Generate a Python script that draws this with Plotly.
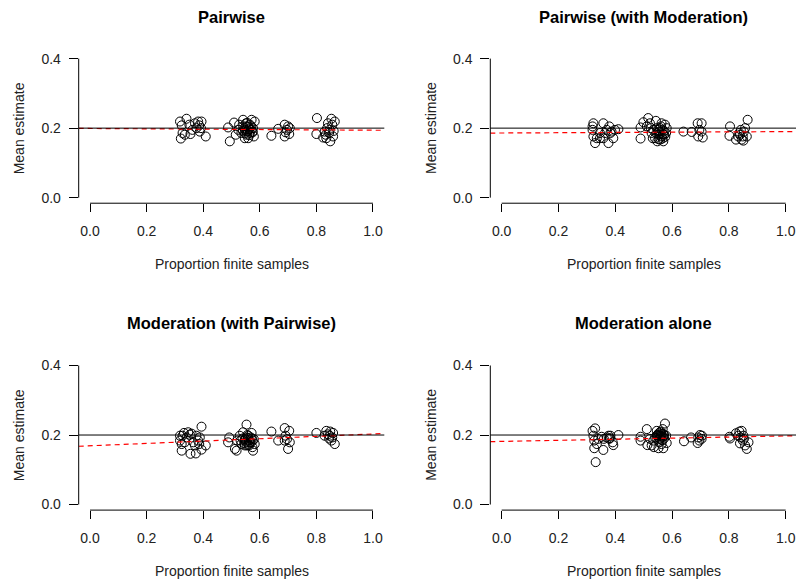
import plotly.graph_objects as go

# ---------------- data ----------------
titles = ["Pairwise", "Pairwise (with Moderation)",
          "Moderation (with Pairwise)", "Moderation alone"]
x_label = "Proportion finite samples"
y_label = "Mean estimate"
x_ticks = [0.0, 0.2, 0.4, 0.6, 0.8, 1.0]
y_ticks = [0.0, 0.2, 0.4]
true_value = 0.2

p1_x = [0.318, 0.321, 0.327, 0.341, 0.351, 0.355, 0.362, 0.371, 0.376, 0.386, 0.388, 0.394,
        0.392, 0.409, 0.382, 0.324, 0.335,
        0.488, 0.494, 0.509, 0.515, 0.527, 0.541, 0.547, 0.553, 0.559, 0.565, 0.571, 0.576,
        0.579, 0.551, 0.555, 0.535, 0.582, 0.524, 0.565, 0.574, 0.547, 0.559, 0.541, 0.562,
        0.545, 0.552, 0.558, 0.563, 0.570, 0.548, 0.556, 0.568, 0.575, 0.540,
        0.641, 0.665, 0.688, 0.691, 0.688, 0.700, 0.704, 0.706, 0.696,
        0.802, 0.800, 0.824, 0.833, 0.838, 0.841, 0.845, 0.849, 0.853, 0.856, 0.861, 0.865,
        0.859, 0.847, 0.835, 0.829]
p1_y = [0.219, 0.170, 0.186, 0.227, 0.210, 0.183, 0.195, 0.214, 0.200, 0.208, 0.190, 0.219,
        0.200, 0.176, 0.219, 0.208, 0.181,
        0.202, 0.162, 0.216, 0.181, 0.210, 0.224, 0.195, 0.181, 0.171, 0.210, 0.224, 0.200,
        0.176, 0.214, 0.190, 0.186, 0.219, 0.195, 0.186, 0.190, 0.171, 0.205, 0.205, 0.197,
        0.200, 0.205, 0.192, 0.180, 0.205, 0.185, 0.215, 0.195, 0.188, 0.192,
        0.178, 0.198, 0.210, 0.188, 0.176, 0.205, 0.183, 0.200, 0.195,
        0.229, 0.183, 0.173, 0.181, 0.200, 0.214, 0.186, 0.162, 0.227, 0.210, 0.192, 0.219,
        0.176, 0.195, 0.171, 0.190]

p2_x = [0.323, 0.320, 0.323, 0.329, 0.335, 0.346, 0.358, 0.358, 0.370, 0.376, 0.379, 0.387,
        0.393, 0.399, 0.411, 0.346, 0.364, 0.383, 0.320,
        0.489, 0.489, 0.499, 0.516, 0.511, 0.522, 0.528, 0.532, 0.543, 0.546, 0.552, 0.558,
        0.563, 0.567, 0.569, 0.575, 0.579, 0.581, 0.540, 0.555, 0.563, 0.548, 0.572, 0.534,
        0.525, 0.550, 0.556, 0.561, 0.566, 0.571, 0.576, 0.545, 0.558, 0.568, 0.553,
        0.640, 0.669, 0.690, 0.692, 0.696, 0.704, 0.708, 0.704,
        0.804, 0.802, 0.825, 0.833, 0.837, 0.842, 0.845, 0.849, 0.853, 0.857, 0.863, 0.866,
        0.851, 0.839]
p2_y = [0.214, 0.195, 0.176, 0.157, 0.171, 0.186, 0.214, 0.171, 0.195, 0.157, 0.205, 0.190,
        0.171, 0.195, 0.197, 0.171, 0.186, 0.186, 0.205,
        0.202, 0.170, 0.217, 0.229, 0.205, 0.214, 0.186, 0.171, 0.221, 0.200, 0.181, 0.167,
        0.214, 0.195, 0.162, 0.210, 0.186, 0.200, 0.171, 0.190, 0.176, 0.162, 0.181, 0.195,
        0.200, 0.195, 0.182, 0.205, 0.170, 0.192, 0.175, 0.185, 0.200, 0.183, 0.168,
        0.190, 0.189, 0.214, 0.176, 0.195, 0.214, 0.173, 0.190,
        0.205, 0.178, 0.167, 0.176, 0.186, 0.195, 0.167, 0.176, 0.190, 0.200, 0.176, 0.224,
        0.164, 0.181]

p3_x = [0.318, 0.324, 0.327, 0.332, 0.324, 0.341, 0.347, 0.355, 0.359, 0.365, 0.374, 0.376,
        0.371, 0.386, 0.388, 0.394, 0.394, 0.409, 0.382, 0.335, 0.318, 0.353,
        0.492, 0.488, 0.512, 0.518, 0.520, 0.529, 0.535, 0.541, 0.547, 0.553, 0.555, 0.559,
        0.565, 0.571, 0.574, 0.576, 0.579, 0.582, 0.551, 0.539, 0.568, 0.562, 0.547, 0.532,
        0.548, 0.553, 0.558, 0.563, 0.568, 0.572, 0.556, 0.545, 0.560, 0.575,
        0.641, 0.665, 0.688, 0.691, 0.688, 0.700, 0.704, 0.706, 0.696,
        0.800, 0.829, 0.835, 0.841, 0.845, 0.849, 0.853, 0.859, 0.865, 0.856, 0.847]
p3_y = [0.184, 0.155, 0.198, 0.206, 0.174, 0.193, 0.208, 0.146, 0.204, 0.179, 0.147, 0.198,
        0.170, 0.174, 0.193, 0.224, 0.158, 0.170, 0.184, 0.179, 0.198, 0.201,
        0.193, 0.179, 0.160, 0.155, 0.184, 0.198, 0.174, 0.208, 0.184, 0.230, 0.170, 0.198,
        0.179, 0.206, 0.165, 0.155, 0.188, 0.174, 0.193, 0.190, 0.193, 0.170, 0.170, 0.184,
        0.188, 0.180, 0.192, 0.185, 0.178, 0.190, 0.200, 0.176, 0.172, 0.184,
        0.210, 0.184, 0.220, 0.198, 0.184, 0.160, 0.212, 0.179, 0.188,
        0.206, 0.198, 0.212, 0.202, 0.190, 0.210, 0.184, 0.206, 0.174, 0.193, 0.198]

p4_x = [0.320, 0.323, 0.329, 0.326, 0.326, 0.331, 0.335, 0.340, 0.352, 0.358, 0.360, 0.370,
        0.376, 0.379, 0.383, 0.391, 0.393, 0.411, 0.381,
        0.489, 0.489, 0.511, 0.513, 0.522, 0.528, 0.534, 0.536, 0.546, 0.546, 0.552, 0.555,
        0.558, 0.560, 0.563, 0.567, 0.569, 0.575, 0.579, 0.581, 0.552, 0.563, 0.572, 0.540,
        0.569, 0.558, 0.548, 0.553, 0.558, 0.563, 0.568, 0.572, 0.556, 0.545, 0.560, 0.566,
        0.642, 0.667, 0.690, 0.692, 0.698, 0.704, 0.705, 0.696,
        0.802, 0.804, 0.825, 0.833, 0.837, 0.839, 0.845, 0.849, 0.851, 0.857, 0.863, 0.869,
        0.853, 0.841]
p4_y = [0.212, 0.198, 0.219, 0.184, 0.162, 0.122, 0.174, 0.189, 0.195, 0.157, 0.189, 0.193,
        0.198, 0.189, 0.198, 0.179, 0.171, 0.200, 0.191,
        0.195, 0.184, 0.217, 0.171, 0.189, 0.170, 0.184, 0.165, 0.198, 0.212, 0.162, 0.179,
        0.208, 0.195, 0.174, 0.217, 0.162, 0.233, 0.198, 0.177, 0.200, 0.198, 0.190, 0.193,
        0.203, 0.189, 0.200, 0.205, 0.198, 0.203, 0.195, 0.200, 0.190, 0.192, 0.210, 0.185,
        0.182, 0.193, 0.177, 0.193, 0.200, 0.189, 0.198, 0.184,
        0.195, 0.190, 0.205, 0.198, 0.210, 0.176, 0.212, 0.184, 0.198, 0.170, 0.160, 0.179,
        0.189, 0.193]

fit_intercept = [0.199, 0.186, 0.169, 0.1816]
fit_slope = [-0.005, 0.004, 0.034, 0.0157]

# ---------------- figure ----------------
W, H = 796, 585
FONT = "Liberation Sans, Arial, Helvetica, sans-serif"
xs = [p1_x, p2_x, p3_x, p4_x]
ys = [p1_y, p2_y, p3_y, p4_y]

x_domains = [[78.7 / W, 384.3 / W], [490.3 / W, 1.0]]
x_ranges = [[-0.04, 1.04], [-0.04, (W - 501.7) / 284.0]]
y_domains = [[(H - 202.6) / H, (H - 51.4) / H], [(H - 511.6) / H, (H - 360.4) / H]]
y_range = [-0.016, 0.416]

fig = go.Figure()
layout = dict(width=W, height=H, margin=dict(l=0, r=0, t=0, b=0),
              plot_bgcolor="white", paper_bgcolor="white", showlegend=False,
              font=dict(family=FONT, color="black", size=14))
annotations = []
shapes = []

for i in range(4):
    row, col = divmod(i, 2)
    n = "" if i == 0 else str(i + 1)
    xa, ya = "x" + n, "y" + n
    xl, yl = "xaxis" + n, "yaxis" + n
    layout[xl] = dict(domain=x_domains[col], range=x_ranges[col], anchor=ya,
                      tickvals=x_ticks, tickformat=".1f", ticks="outside", ticklen=8,
                      tickcolor="black", tickwidth=1, showline=False, showgrid=False,
                      zeroline=False, tickfont=dict(size=14, color="#222"),
                      ticklabelstandoff=7, fixedrange=True)
    layout[yl] = dict(domain=y_domains[row], range=y_range, anchor=xa,
                      tickvals=y_ticks, tickformat=".1f", ticks="outside", ticklen=9,
                      tickcolor="black", tickwidth=1, showline=False, showgrid=False,
                      zeroline=False, tickfont=dict(size=14, color="#222"),
                      ticklabelstandoff=5, fixedrange=True)

    # points
    fig.add_trace(go.Scatter(x=xs[i], y=ys[i], mode="markers", xaxis=xa, yaxis=ya,
                             marker=dict(symbol="circle-open", size=9, color="black",
                                         line=dict(width=1))))
    # regression line (red dashed)
    xr = x_ranges[col]
    fig.add_trace(go.Scatter(x=[xr[0], xr[1]],
                             y=[fit_intercept[i] + fit_slope[i] * xr[0],
                                fit_intercept[i] + fit_slope[i] * xr[1]],
                             mode="lines", xaxis=xa, yaxis=ya,
                             line=dict(color="red", width=1.2, dash="5px,4px")))
    # true value line
    shapes.append(dict(type="line", xref=xa + " domain", yref=ya, x0=0, x1=1,
                       y0=true_value, y1=true_value, line=dict(color="black", width=1)))
    # axis lines (R style, spanning first to last tick)
    shapes.append(dict(type="line", xref=xa, yref=ya + " domain", x0=x_ticks[0],
                       x1=x_ticks[-1], y0=0, y1=0, line=dict(color="black", width=1)))
    shapes.append(dict(type="line", xref=xa + " domain", yref=ya, x0=0, x1=0,
                       y0=y_ticks[0], y1=y_ticks[-1], line=dict(color="black", width=1)))

    # titles
    annotations.append(dict(text="<b>" + titles[i] + "</b>", xref=xa, x=0.5,
                            yref=ya + " domain", y=1, yshift=36.5,
                            showarrow=False, font=dict(size=16.5, color="black"),
                            xanchor="center", yanchor="middle"))
    annotations.append(dict(text=x_label, xref=xa, x=0.5, yref=ya + " domain", y=0,
                            yshift=-61, showarrow=False, xanchor="center",
                            yanchor="middle", font=dict(size=14, color="#222")))
    annotations.append(dict(text=y_label, xref=xa + " domain", x=0, xshift=-59.5,
                            yref=ya + " domain", y=0.5, textangle=-90, showarrow=False,
                            xanchor="center", yanchor="middle",
                            font=dict(size=14, color="#222")))

layout["annotations"] = annotations
layout["shapes"] = shapes
fig.update_layout(**layout)
fig.write_html("out.html", config={"displayModeBar": False},
               post_script="document.body.style.margin='0';"
                           "document.body.style.overflow='hidden';")
